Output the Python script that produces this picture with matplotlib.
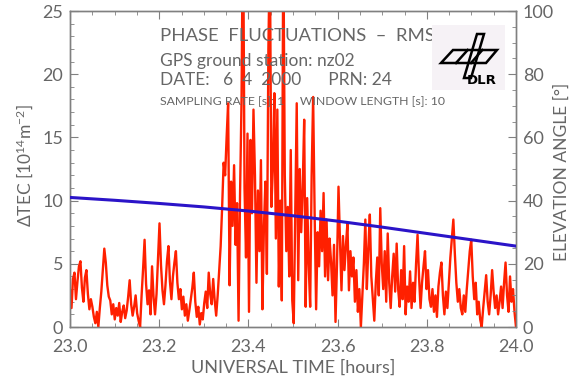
import numpy as np
import matplotlib.pyplot as plt
from matplotlib.patches import Polygon, Rectangle
from matplotlib.ticker import MultipleLocator

plt.rcParams['font.family'] = ['Lato', 'DejaVu Sans']
plt.rcParams['mathtext.fontset'] = 'custom'
plt.rcParams['mathtext.rm'] = 'Lato'
plt.rcParams['mathtext.it'] = 'Lato'

# RMS of phase fluctuations (TEC units, 10^14 m^-2), one value per 10 s window
dtec = [
    2.9, 1.5, 3.8, 4.3, 2.2, 3.6, 4.8, 5.2, 3.1, 2.0, 3.9, 4.5, 2.6, 1.4, 2.2, 1.6, 0.8, 0.3, 1.2, 0.0,
    1.5, 2.8, 4.5, 6.2, 5.1, 3.3, 2.4, 2.1, 1.0, 1.8, 0.6, 1.5, 0.9, 1.9, 0.4, 1.2, 1.7, 0.7, 1.3, 2.4,
    3.7, 1.8, 0.9, 1.6, 2.5, 1.1, 0.5, 0.0, 2.5, 4.6, 6.9, 3.4, 1.8, 2.9, 1.0, 4.8, 2.4, 1.0, 2.6, 5.5,
    8.2, 4.9, 2.9, 1.8, 3.3, 5.2, 6.4, 3.6, 2.2, 4.0, 5.1, 6.0, 3.5, 2.2, 3.0, 1.4, 2.4, 0.9, 1.8, 0.5,
    1.3, 2.2, 3.1, 4.3, 2.0, 0.8, 1.6, 0.2, 1.1, 0.6, 1.9, 2.8, 1.5, 4.3, 2.6, 1.8, 3.8, 2.1, 0.9, 2.5,
    4.4, 6.4, 9.5, 13.0, 12.0, 15.0, 17.7, 3.3, 11.5, 8.0, 12.8, 6.5, 9.8, 0.5, 10.5, 18.0, 34.0, 11.0, 5.5, 15.3,
    1.2, 14.8, 9.0, 17.2, 12.0, 3.5, 10.8, 6.0, 13.2, 1.4, 7.9, 11.5, 4.2, 22.0, 30.0, 9.5, 12.5, 18.5, 7.0, 17.2,
    3.2, 10.0, 2.1, 31.0, 12.0, 6.0, 9.5, 4.0, 14.0, 2.1, 0.3, 9.0, 17.7, 3.7, 12.5, 7.5, 11.0, 16.4, 1.6, 10.2,
    5.0, 1.6, 12.0, 18.2, 9.0, 1.4, 7.5, 4.8, 9.2, 6.0, 10.6, 4.0, 8.5, 3.7, 7.0, 5.2, 2.5, 6.5, 0.4, 5.0,
    11.1, 6.8, 2.9, 7.2, 4.5, 6.5, 8.2, 2.9, 6.0, 4.0, 5.5, 2.0, 4.5, 1.2, 3.0, 0.0, 2.5, 5.0, 8.5, 3.0,
    6.2, 8.9, 4.0, 2.2, 0.5, 3.5, 5.5, 2.5, 9.4, 5.0, 3.0, 6.0, 2.0, 7.4, 3.5, 1.5, 4.0, 5.8, 2.8, 6.6,
    3.0, 1.6, 4.5, 2.2, 6.4, 1.0, 3.2, 2.0, 4.4, 1.5, 3.5, 2.0, 5.0, 7.3, 4.0, 1.5, 3.5, 4.8, 6.0, 3.0,
    4.5, 2.2, 1.6, 3.0, 1.2, 2.5, 0.8, 3.2, 4.3, 5.1, 2.5, 1.0, 2.8, 1.5, 3.5, 5.5, 7.0, 8.5, 5.8, 3.5,
    2.0, 3.0, 1.5, 1.0, 2.5, 1.2, 3.0, 4.5, 6.0, 6.9, 4.0, 2.2, 3.5, 1.0, 2.0, 0.6, 0.0, 1.5, 2.8, 4.1,
    2.0, 1.0, 2.5, 4.5, 2.8, 1.5, 2.5, 1.0, 2.0, 3.2, 1.5, 3.5, 5.1, 2.5, 1.2, 4.0, 2.0, 3.0, 1.2, 0.0,
]
t_dtec = np.linspace(23.0, 24.0, len(dtec))

# satellite elevation angle (degrees)
t_elev = [23.0, 23.1, 23.2, 23.3, 23.4, 23.5, 23.6, 23.7, 23.8, 23.9, 24.0]
elev = [41.0, 40.1, 39.1, 38.0, 36.7, 35.2, 33.5, 31.6, 29.6, 27.6, 25.6]

GREY = '#666666'
W, H = 570, 379

def fxy(px, py):
    # pixel position (from top-left) -> figure fraction
    return px / W, 1 - py / H

fig = plt.figure(figsize=(5.7, 3.79), dpi=100)
fig.patch.set_facecolor('white')
ax = fig.add_axes([70 / W, 1 - 327 / H, 446 / W, 316 / H])
ax2 = ax.twinx()

ax.plot(t_dtec, dtec, color='#ff2000', lw=1.7, zorder=3)
ax2.plot(t_elev, elev, color='#2b14c8', lw=2.2, zorder=4)

ax.set_xlim(23.0, 24.0)
ax.set_ylim(0, 25)
ax2.set_ylim(0, 100)

ax.xaxis.set_major_locator(MultipleLocator(0.2))
ax.xaxis.set_minor_locator(MultipleLocator(0.05))
ax.yaxis.set_major_locator(MultipleLocator(5))
ax.yaxis.set_minor_locator(MultipleLocator(1))
ax2.yaxis.set_major_locator(MultipleLocator(20))
ax2.yaxis.set_minor_locator(MultipleLocator(5))
ax.xaxis.set_major_formatter(plt.FuncFormatter(lambda v, p: '%.1f' % v))

for a in (ax, ax2):
    for s in a.spines.values():
        s.set_color('#808080')
        s.set_linewidth(1.0)
ax.tick_params(which='both', direction='in', colors='#808080', labelcolor=GREY,
               labelsize=13, top=True, right=False)
ax.tick_params(which='major', length=6)
ax.tick_params(which='minor', length=3)
ax.tick_params(axis='x', pad=9)
ax.tick_params(axis='y', pad=5)
ax2.tick_params(which='both', direction='in', colors='#808080', labelcolor=GREY,
                labelsize=13, pad=5)
ax2.tick_params(which='major', length=6)
ax2.tick_params(which='minor', length=3)

fig.text(*fxy(293, 368), 'UNIVERSAL TIME [hours]', color=GREY, fontsize=13,
         ha='center', va='center')
fig.text(*fxy(25, 166), r'$\Delta$TEC [10$^{14}$m$^{-2}$]', color=GREY, fontsize=12.5,
         rotation=90, ha='center', va='center')
fig.text(*fxy(562, 172), 'ELEVATION ANGLE [°]', color=GREY, fontsize=12.5,
         rotation=90, ha='center', va='center')

# header lines inside the plot
hdr = dict(color=GREY, ha='left', va='center', zorder=1)
fig.text(*fxy(160, 36), 'PHASE  FLUCTUATIONS  \u2013  RMS', fontsize=13.3, **hdr)
fig.text(*fxy(160, 61), 'GPS ground station: nz02', fontsize=12.5, **hdr)
fig.text(*fxy(160, 80), 'DATE:   6  4  2000      PRN: 24', fontsize=12.5, **hdr)
fig.text(*fxy(160, 102), 'SAMPLING RATE [s]: 1     WINDOW LENGTH [s]: 10',
         fontsize=8.8, **hdr)

# DLR logo on a pale box
def fpoly(pts, **kw):
    return Polygon([fxy(x, y) for x, y in pts], closed=True,
                   transform=fig.transFigure, **kw)

x0, y0 = fxy(432, 90)
x1, y1 = fxy(505, 25)
fig.add_artist(Rectangle((x0, y0), x1 - x0, y1 - y0, transform=fig.transFigure,
                         facecolor='#f6f2f6', edgecolor='none', zorder=5))
tl, tr, br, bl = (453, 50), (497, 50), (486, 63), (441, 63)
fig.add_artist(fpoly([(477, 34), (484, 34), (471, 78), (464, 78)],
                     facecolor='none', edgecolor='black', lw=1.8, zorder=6))
fig.add_artist(fpoly([tl, tr, br, bl], facecolor='none', edgecolor='black',
                     lw=1.8, zorder=6))
for k in (1, 2):
    f = k / 3
    top = (tl[0] + f * (tr[0] - tl[0]), tl[1])
    bot = (bl[0] + f * (br[0] - bl[0]), bl[1])
    fig.add_artist(plt.Line2D([fxy(*top)[0], fxy(*bot)[0]], [fxy(*top)[1], fxy(*bot)[1]],
                              transform=fig.transFigure, color='black', lw=1.8, zorder=6))
fig.text(*fxy(482, 81), 'DLR', fontsize=9.5, fontweight='bold', color='black',
         family='DejaVu Sans', ha='center', va='center', zorder=7)

fig.savefig('out.png', dpi=100)
